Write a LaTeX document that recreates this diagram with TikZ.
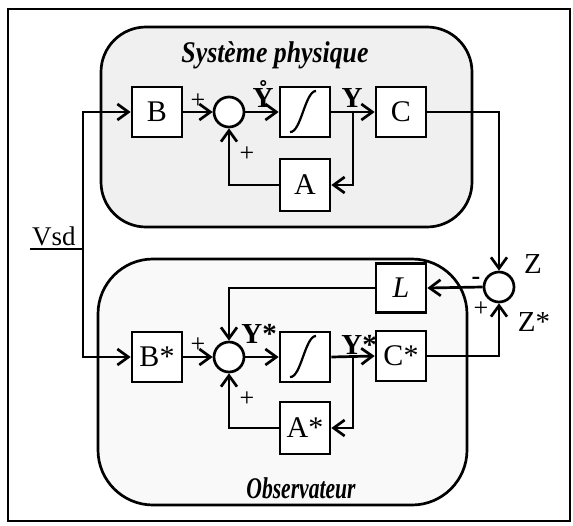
\documentclass[tikz,border=0pt]{standalone}
\usepackage{fontspec}
\setmainfont{Liberation Serif}
\usetikzlibrary{arrows.meta}
\begin{document}
\begin{tikzpicture}[x=1pt,y=-1pt,
  line width=2.7pt,
  blk/.style={draw, fill=white, minimum width=50pt, minimum height=50pt, inner sep=0pt, font=\fontsize{30}{30}\selectfont},
  sumc/.style={draw, fill=white, circle, minimum size=30pt, inner sep=0pt},
  arr/.style={-{Straight Barb[length=11pt,width=16pt,line width=2.7pt]}},
  lab/.style={font=\fontsize{29}{29}\selectfont, inner sep=0pt},
  ylab/.style={font=\fontsize{29}{29}\selectfont\bfseries, inner sep=0pt},
  sgn/.style={font=\fontsize{26}{26}\selectfont, inner sep=0pt},
  ttl/.style={font=\fontsize{30}{30}\selectfont\bfseries\itshape, inner sep=0pt},
  region/.style={draw, line width=2.7pt}
]
\useasboundingbox (0,0) rectangle (573,525);
\draw[line width=2.2pt] (8,9) rectangle (570,521);

% regions
\draw[region, rounded corners=45pt, fill=gray!12] (101,27) rectangle (472,227);
\draw[region, rounded corners=55pt, fill=gray!5] (98,259) rectangle (467,505);

\node[ttl] (t1) at (275,55) {\scalebox{0.86}[1]{Système physique}};
\node[ttl] (t2) at (301,488) {\scalebox{0.72}[1]{Observateur}};

% top row
\node[blk] (B) at (157,112) {B};
\node[sumc] (S1) at (229,112) {};
\node[blk] (I1) at (305,112) {};
\node[blk] (C) at (401,112) {C};
\node[blk, minimum height=52pt] (A) at (305,185) {A};

% bottom row
\node[blk] (Bs) at (157,357) {B*};
\node[sumc] (S2) at (229,357) {};
\node[blk] (I2) at (305,357) {};
\node[blk] (Cs) at (401,356) {C*};
\node[blk, minimum height=52pt] (As) at (305,428) {A*};
\node[blk, minimum height=49pt] (L) at (401,288) {\itshape L};
\node[sumc] (SZ) at (499,287) {};

% integrator curves
\begin{scope}[shift={(305,112)}]
  \draw[line width=2.2pt] (-15,20) .. controls (-4,21) and (0,-21) .. (11,-21);
\end{scope}
\begin{scope}[shift={(305,357)}]
  \draw[line width=2.2pt] (-15,20) .. controls (-4,21) and (0,-21) .. (11,-21);
\end{scope}

% input
\coordinate (vs0) at (30,249);
\coordinate (vj) at (83,249);
\draw (vs0) -- (vj);
\draw[arr] (vj) |- (B.west);
\draw[arr] (vj) |- (Bs.west);
\node[lab, font=\fontsize{27}{27}\selectfont, anchor=base] (vsd) at (54,245) {Vsd};

% top connectors
\draw[arr] (B.east) -- (S1.west);
\draw[arr] (S1.east) -- (I1.west);
\draw[arr] (I1.east) -- (C.west);
\coordinate (br1) at (353,112);
\draw[arr] (br1) |- (A.east);
\draw[arr] (A.west) -| (S1.south);
\draw[arr] (C.east) -| (SZ.north);

% bottom connectors
\draw[arr] (Bs.east) -- (S2.west);
\draw[arr] (S2.east) -- (I2.west);
\draw[arr] (I2.east) -- (Cs.west);
\coordinate (br2) at (353,357);
\draw[arr] (br2) |- (As.east);
\draw[arr] (As.west) -| (S2.south);
\draw[arr] (Cs.east) -| (SZ.south);
\draw[arr] (SZ.west) -- (L.east);
\draw[arr] (L.west) -| (S2.north);

% labels
\node[ylab, anchor=base] (y1) at (263,107) {\r{Y}};
\node[ylab, anchor=base] (y2) at (352,107) {Y};
\node[ylab, anchor=base west] (y3) at (240,343) {Y*};
\node[ylab, anchor=base west] (y4) at (340,354) {Y*};
\node[sgn] (p1) at (198,101) {+};
\node[sgn] (p2) at (247,154) {+};
\node[sgn] (p3) at (198,345) {+};
\node[sgn] (p4) at (247,399) {+};
\node[sgn] (p5) at (481,309) {+};
\node[sgn] (m1) at (476,281) {\textbf{-}};
\node[lab] (z) at (533,264) {Z};
\node[lab] (zs) at (534,322) {Z*};
\end{tikzpicture}
\end{document}
